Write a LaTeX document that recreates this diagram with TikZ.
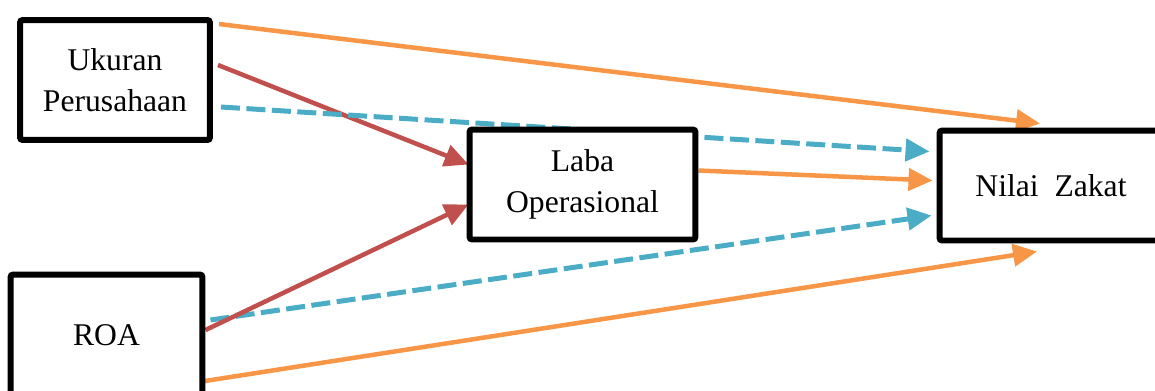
\documentclass[tikz,border=0pt]{standalone}
\usepackage{fontspec}
\setmainfont{Liberation Serif}
\usepackage{tikz}
\usetikzlibrary{arrows.meta, calc, backgrounds}
\definecolor{zkorange}{HTML}{F79646}
\definecolor{zkred}{HTML}{C0504D}
\definecolor{zkblue}{HTML}{4BACC6}

\begin{document}
\begin{tikzpicture}[x=0.02cm, y=-0.02cm, font=\fontsize{18}{23}\selectfont,
        box/.style={draw, line width=0.12cm, rounded corners=1.5pt, fill=white, align=center, inner sep=3pt},
        link/.style={line width=0.09cm, -{Triangle[length=4.8mm, width=4.4mm]}},
        dlink/.style={link, line width=0.1cm, dash pattern=on 0.38cm off 0.13cm}]
        \useasboundingbox (0,0) rectangle (1155,390);
        \node[box, minimum width=3.8cm, minimum height=2.4cm] (ukuran) at (115,80) {Ukuran\\Perusahaan};
        \node[box, minimum width=3.84cm, minimum height=2.42cm] (roa) at (106.5,335) {ROA};
        \node[box, minimum width=4.52cm, minimum height=2.2cm] (laba) at (582.5,184.5) {Laba\\Operasional};
        \node[box, minimum width=4.46cm, minimum height=2.2cm] (zakat) at (1051,185.5) {Nilai\ \ Zakat};
        \begin{scope}[on background layer]
        \draw[link, zkorange] ($(ukuran.north east)+(6,7)$) -- ($(zakat.north)+(-11,-4)$);
        \draw[link, zkred] ($(ukuran.east)+(5,-15)$) -- ($(laba.west)+(2,-20)$);
        \draw[dlink, zkblue] ($(ukuran.east)+(8,27)$) -- ($(zakat.west)+(-7,-34)$);
        \draw[link, zkorange] ($(laba.east)+(0,-14)$) -- ($(zakat.west)+(-4,-5)$);
        \draw[dlink, zkblue] ($(roa.east)+(5,-15)$) -- ($(zakat.west)+(-5,30)$);
        \draw[link, zkred] ($(roa.east)+(0,-5)$) -- ($(laba.west)+(2,20)$);
        \draw[link, zkorange] ($(roa.east)+(-7,47)$) -- ($(zakat.south)+(-14,8)$);
        \end{scope}
      \end{tikzpicture}
\end{document}
